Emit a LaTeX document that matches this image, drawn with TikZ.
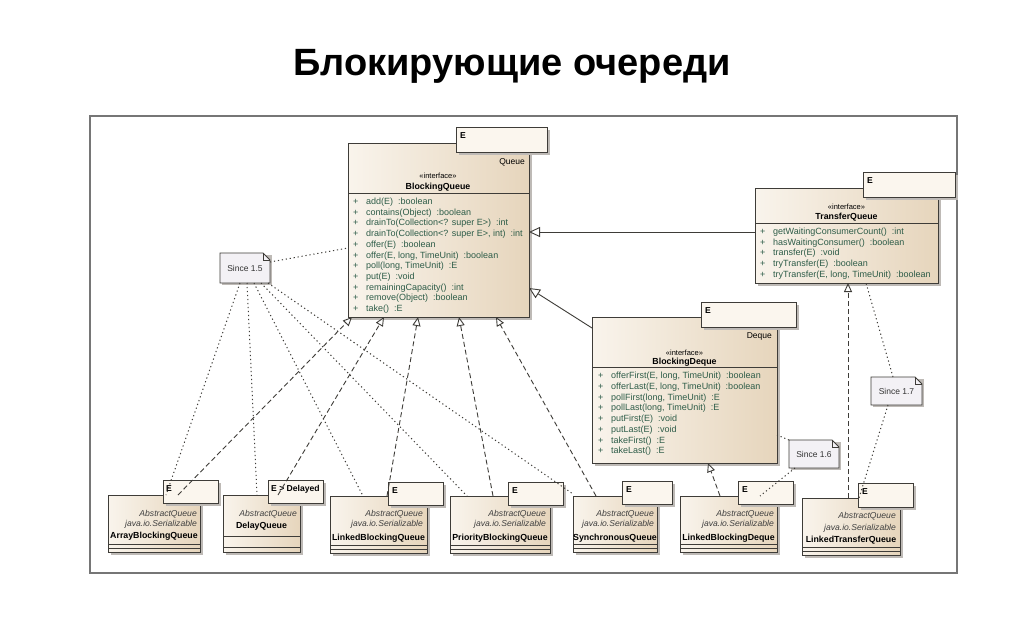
\documentclass[tikz,border=0pt]{standalone}
\usepackage{fontspec}
\setmainfont{Liberation Sans}
\usetikzlibrary{arrows.meta}
\definecolor{ln}{RGB}{62,60,56}
\definecolor{boxA}{RGB}{249,244,236}
\definecolor{boxB}{RGB}{230,213,188}
\definecolor{tmplc}{RGB}{251,246,238}
\definecolor{methc}{RGB}{45,92,72}
\definecolor{notec}{RGB}{243,241,245}
\definecolor{framec}{RGB}{118,118,118}
\definecolor{shadowc}{RGB}{190,186,182}
\tikzset{
  clsbox/.style={draw=ln, line width=0.9pt, anchor=north west, inner sep=0pt, outer sep=0pt, left color=boxA, right color=boxB},
  tmplbox/.style={draw=ln, line width=0.9pt, anchor=north west, inner sep=0pt, outer sep=0pt, fill=tmplc},
  notebox/.style={anchor=north west, inner sep=0pt, outer sep=0pt},
  notepath/.style={draw=ln, line width=0.8pt, fill=notec},
  methtxt/.style={anchor=base west, inner sep=0pt, text=methc, font=\fontsize{9}{10}\selectfont},
  cname/.style={anchor=base, inner sep=0pt, font=\fontsize{8.8}{10}\selectfont\bfseries},
  stereo/.style={anchor=base, inner sep=0pt, font=\fontsize{7.5}{9}\selectfont},
  itxt/.style={anchor=base east, inner sep=0pt, font=\fontsize{8.6}{10}\selectfont\itshape, text=black!75},
  ttxt/.style={anchor=base west, inner sep=0pt, font=\fontsize{8.6}{10}\selectfont\bfseries},
  septxt/.style={anchor=base east, inner sep=0pt, font=\fontsize{8.5}{10}\selectfont},
  sepline/.style={draw=ln, line width=0.8pt},
  realize/.style={draw=ln, line width=0.9pt, dash pattern=on 5pt off 3pt, -{Triangle[length=9pt,width=8pt,fill=white]}},
  general/.style={draw=ln, line width=0.9pt, -{Triangle[length=11pt,width=10pt,fill=white]}},
  notelink/.style={draw=ln, line width=1pt, dash pattern=on 1.2pt off 2.8pt}
}
\newcommand\umlframe[6]{%
  \fill[shadowc] ({#3+2.5},{#4+2.5}) rectangle ({#5+2.5},{#6+2.5});
  \node[#2, minimum width={#5-#3}, minimum height={#6-#4}] (#1) at (#3,#4) {};}
\newcommand\umlnote[6]{%
  \fill[shadowc] ({#2+2},{#3+2}) rectangle ({#4+2},{#5+2});
  \node[notebox, minimum width={#4-#2}, minimum height={#5-#3}] (#1) at (#2,#3) {};
  \draw[notepath] (#1.north west) -- ([xshift=-7pt]#1.north east) -- ([yshift=-7pt]#1.north east) -- (#1.south east) -- (#1.south west) -- cycle;
  \draw[ln, line width=0.6pt] ([xshift=-7pt]#1.north east) -- ([xshift=-7pt,yshift=-7pt]#1.north east) -- ([yshift=-7pt]#1.north east);
  \node[font=\fontsize{8.5}{10}\selectfont, text=black!80, inner sep=0pt] (#1t) at (#1.center) {#6};}
\begin{document}
\begin{tikzpicture}[x=1pt,y=-1pt]
\useasboundingbox (0,0) rectangle (1024,638);
\fill[white] (0,0) rectangle (1024,638);
\node[font=\fontsize{38}{42}\selectfont\bfseries, inner sep=0pt] (title) at (512,66) {Блокирующие очереди};
\draw[framec, line width=1.6pt] (90,116) rectangle (957,573);

% ---------- BlockingQueue ----------
\umlframe{bq}{clsbox}{348}{143}{529}{317}
\umlframe{bqT}{tmplbox}{456}{127}{547}{152}
\node[ttxt] (bqE) at (460,138) {E};
\node[septxt] (bqS) at (525,164) {Queue};
\node[stereo] (bqI) at (438,178) {«interface»};
\node[cname] (bqN) at (438,189) {BlockingQueue};
\draw[sepline] (348,193) -- (529,193);
\foreach \t [count=\i from 0] in {{add(E)~ :boolean},{contains(Object)~ :boolean},{drainTo(Collection<? super E>)~ :int},{drainTo(Collection<? super E>, int)~ :int},{offer(E)~ :boolean},{offer(E, long, TimeUnit)~ :boolean},{poll(long, TimeUnit)~ :E},{put(E)~ :void},{remainingCapacity()~ :int},{remove(Object)~ :boolean},{take()~ :E}}{
  \node[methtxt] (bqp\i) at (353,{204.5+10.7*\i}) {+};
  \node[methtxt] (bqm\i) at (366,{204.5+10.7*\i}) {\t};
}

% ---------- TransferQueue ----------
\umlframe{tq}{clsbox}{755}{188}{938}{283}
\umlframe{tqT}{tmplbox}{863}{172}{955}{197}
\node[ttxt] (tqE) at (867,183) {E};
\node[stereo] (tqI) at (846.5,209.5) {«interface»};
\node[cname] (tqN) at (846.5,219) {TransferQueue};
\draw[sepline] (755,223) -- (938,223);
\foreach \t [count=\i from 0] in {{getWaitingConsumerCount()~ :int},{hasWaitingConsumer()~ :boolean},{transfer(E)~ :void},{tryTransfer(E)~ :boolean},{tryTransfer(E, long, TimeUnit)~ :boolean}}{
  \node[methtxt] (tqp\i) at (760,{234.5+10.7*\i}) {+};
  \node[methtxt] (tqm\i) at (773,{234.5+10.7*\i}) {\t};
}

% ---------- BlockingDeque ----------
\umlframe{bd}{clsbox}{592}{317}{777}{463}
\umlframe{bdT}{tmplbox}{701}{302}{796}{327}
\node[ttxt] (bdE) at (705,313) {E};
\node[septxt] (bdS) at (772,338) {Deque};
\node[stereo] (bdI) at (684.5,355) {«interface»};
\node[cname] (bdN) at (684.5,364) {BlockingDeque};
\draw[sepline] (592,367.5) -- (777,367.5);
\foreach \t [count=\i from 0] in {{offerFirst(E, long, TimeUnit)~ :boolean},{offerLast(E, long, TimeUnit)~ :boolean},{pollFirst(long, TimeUnit)~ :E},{pollLast(long, TimeUnit)~ :E},{putFirst(E)~ :void},{putLast(E)~ :void},{takeFirst()~ :E},{takeLast()~ :E}}{
  \node[methtxt] (bdp\i) at (598,{378.5+10.76*\i}) {+};
  \node[methtxt] (bdm\i) at (611,{378.5+10.76*\i}) {\t};
}

% ---------- ArrayBlockingQueue ----------
\umlframe{abq}{clsbox}{108}{495}{200}{552}
\node[itxt] (abq1) at (197,516) {AbstractQueue};
\node[itxt] (abq2) at (197,526) {java.io.Serializable};
\node[cname] (abqN) at (154,538) {ArrayBlockingQueue};
\draw[sepline] (108,544) -- (200,544);
\draw[sepline] (108,548) -- (200,548);
\umlframe{abqT}{tmplbox}{163}{480}{218}{503}
\node[ttxt] (abqE) at (166,491) {E};

% ---------- DelayQueue ----------
\umlframe{dq}{clsbox}{223}{495}{300}{552}
\node[itxt] (dq1) at (297,516) {AbstractQueue};
\node[cname] (dqN) at (261.5,528) {DelayQueue};
\draw[sepline] (223,536) -- (300,536);
\draw[sepline] (223,547) -- (300,547);
\umlframe{dqT}{tmplbox}{268}{480}{323}{503}
\node[ttxt] (dqE) at (271,491) {E > Delayed};

% ---------- LinkedBlockingQueue ----------
\umlframe{lbq}{clsbox}{330}{496}{427}{553}
\node[itxt] (lbq1) at (423,516) {AbstractQueue};
\node[itxt] (lbq2) at (423,526) {java.io.Serializable};
\node[cname] (lbqN) at (378.5,540) {LinkedBlockingQueue};
\draw[sepline] (330,545.5) -- (427,545.5);
\draw[sepline] (330,549.5) -- (427,549.5);
\umlframe{lbqT}{tmplbox}{388}{482}{443}{505}
\node[ttxt] (lbqE) at (392,493) {E};

% ---------- PriorityBlockingQueue ----------
\umlframe{pbq}{clsbox}{450}{496}{550}{553}
\node[itxt] (pbq1) at (546,516) {AbstractQueue};
\node[itxt] (pbq2) at (546,526) {java.io.Serializable};
\node[cname] (pbqN) at (500,540) {PriorityBlockingQueue};
\draw[sepline] (450,545.5) -- (550,545.5);
\draw[sepline] (450,549.5) -- (550,549.5);
\umlframe{pbqT}{tmplbox}{508}{482}{563}{505}
\node[ttxt] (pbqE) at (512,493) {E};

% ---------- SynchronousQueue ----------
\umlframe{sq}{clsbox}{573}{496}{657}{552}
\node[itxt] (sq1) at (654,516) {AbstractQueue};
\node[itxt] (sq2) at (654,526) {java.io.Serializable};
\node[cname] (sqN) at (615,540) {SynchronousQueue};
\draw[sepline] (573,544.5) -- (657,544.5);
\draw[sepline] (573,548.5) -- (657,548.5);
\umlframe{sqT}{tmplbox}{622}{481}{672}{504}
\node[ttxt] (sqE) at (626,492) {E};

% ---------- LinkedBlockingDeque ----------
\umlframe{lbd}{clsbox}{680}{496}{777}{552}
\node[itxt] (lbd1) at (774,516) {AbstractQueue};
\node[itxt] (lbd2) at (774,526) {java.io.Serializable};
\node[cname] (lbdN) at (728.5,540) {LinkedBlockingDeque};
\draw[sepline] (680,544.5) -- (777,544.5);
\draw[sepline] (680,548.5) -- (777,548.5);
\umlframe{lbdT}{tmplbox}{738}{481}{793}{504}
\node[ttxt] (lbdE) at (742,492) {E};

% ---------- LinkedTransferQueue ----------
\umlframe{ltq}{clsbox}{802}{498}{900}{555}
\node[itxt] (ltq1) at (896,518) {AbstractQueue};
\node[itxt] (ltq2) at (896,530) {java.io.Serializable};
\node[cname] (ltqN) at (851,542) {LinkedTransferQueue};
\draw[sepline] (802,547.5) -- (900,547.5);
\draw[sepline] (802,551.5) -- (900,551.5);
\umlframe{ltqT}{tmplbox}{858}{483}{913}{507}
\node[ttxt] (ltqE) at (862,494) {E};

% ---------- notes ----------
\umlnote{n15}{220}{253}{270}{283}{Since 1.5}
\umlnote{n16}{789}{440}{839}{468}{Since 1.6}
\umlnote{n17}{871}{377}{922}{405}{Since 1.7}

% ---------- generalizations ----------
\draw[general] ([yshift=-44pt]tq.north west) -- ([yshift=-89pt]bq.north east);
\draw[general] ([yshift=-11pt]bd.north west) -- ([yshift=-145pt]bq.north east);

% ---------- realizations ----------
\draw[realize] ([xshift=70pt]abq.north west) -- ([xshift=4pt]bq.south west);
\draw[realize] ([xshift=55pt]dq.north west) -- ([xshift=36pt]bq.south west);
\draw[realize] ([xshift=57pt]lbq.north west) -- ([xshift=70pt]bq.south west);
\draw[realize] ([xshift=43pt]pbq.north west) -- ([xshift=111pt]bq.south west);
\draw[realize] ([xshift=23pt]sq.north west) -- ([xshift=148pt]bq.south west);
\draw[realize] ([xshift=40pt]lbd.north west) -- ([xshift=116pt]bd.south west);
\draw[realize] ([xshift=46pt]ltq.north west) -- ([xshift=93pt]tq.south west);

% ---------- note links ----------
\draw[notelink] ([yshift=-9pt]n15.north east) -- ([yshift=-105pt]bq.north west);
\draw[notelink] ([xshift=20pt]n15.south west) -- ([xshift=58pt]abq.north west);
\draw[notelink] ([xshift=27pt]n15.south west) -- ([xshift=34pt]dq.north west);
\draw[notelink] ([xshift=34pt]n15.south west) -- ([xshift=33pt]lbq.north west);
\draw[notelink] ([xshift=41pt]n15.south west) -- ([xshift=17pt]pbq.north west);
\draw[notelink] ([xshift=48pt]n15.south west) -- ([xshift=0pt,yshift=2pt]sq.north west);
\draw[notelink] (n16.north west) -- ([yshift=-118pt]bd.north east);
\draw[notelink] ([xshift=6pt]n16.south west) -- ([xshift=80pt]lbd.north west);
\draw[notelink] ([xshift=22pt]n17.north west) -- ([xshift=111pt]tq.south west);
\draw[notelink] ([xshift=17pt]n17.south west) -- ([xshift=57pt]ltq.north west);
\end{tikzpicture}
\end{document}
